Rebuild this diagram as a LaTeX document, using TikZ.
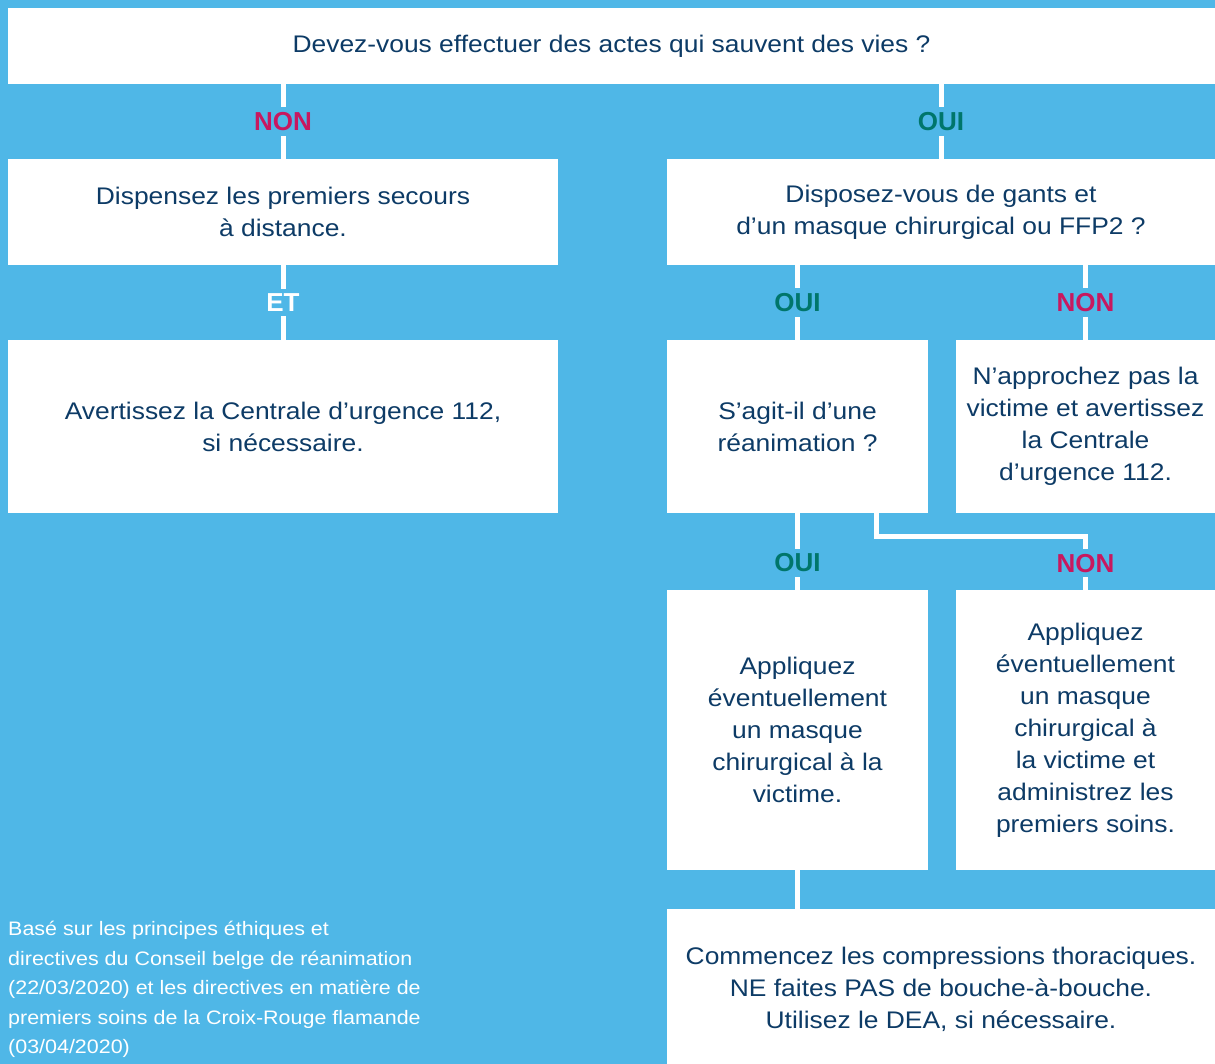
\documentclass[tikz,border=0pt]{standalone}
\usepackage{fontspec}
\setmainfont{Liberation Sans}
\newfontfamily\widefont[FakeStretch=1.1]{Liberation Sans}
\usetikzlibrary{calc, positioning}

\definecolor{sky}{HTML}{4FB7E7}
\definecolor{navy}{HTML}{0D3B66}
\definecolor{nonred}{HTML}{C8185F}
\definecolor{ouigreen}{HTML}{00766B}

\tikzset{
    panel/.style={fill=white, inner sep=0pt, align=center, text=navy,
                  font=\widefont\fontsize{24}{32}\selectfont},
    link/.style={white, line width=5pt},
    tag/.style={fill=sky, inner sep=5pt, font=\fontsize{26}{30}\selectfont\bfseries}
}

\begin{document}
\begin{tikzpicture}[x=1pt, y=-1pt]
    \useasboundingbox[fill=sky] (0,0) rectangle (1215,1064);

    % questions and answers
    \node[panel, minimum width=1207, minimum height=76] (top) at (611.5,46)
        {Devez-vous effectuer des actes qui sauvent des vies~?};
    \node[panel, minimum width=550, minimum height=106] (dispense) at (283,212)
        {Dispensez les premiers secours\\à distance.};
    \node[panel, minimum width=550, minimum height=173] (alerte) at (283,426.5)
        {Avertissez la Centrale d’urgence 112,\\si nécessaire.};
    \node[panel, minimum width=548, minimum height=106] (gants) at (941,212)
        {Disposez-vous de gants et\\d’un masque chirurgical ou FFP2~?};
    \node[panel, minimum width=261, minimum height=173] (reanim) at (797.5,426.5)
        {S’agit-il d’une\\réanimation~?};
    \node[panel, minimum width=259, minimum height=173] (recul) at (1085.5,426.5)
        {N’approchez pas la\\victime et avertissez\\la Centrale\\d’urgence 112.};
    \node[panel, minimum width=261, minimum height=280] (masque) at (797.5,730)
        {Appliquez\\éventuellement\\un masque\\chirurgical à la\\victime.};
    \node[panel, minimum width=259, minimum height=280] (soins) at (1085.5,730)
        {Appliquez\\éventuellement\\un masque\\chirurgical à\\la victime et\\administrez les\\premiers soins.};
    \node[panel, minimum width=548, minimum height=160] (compress) at (941,989)
        {Commencez les compressions thoraciques.\\NE faites PAS de bouche-à-bouche.\\Utilisez le DEA, si nécessaire.};

    % connectors
    \draw[link] (top.south -| dispense) -- node[tag, text=nonred] {NON} (dispense.north);
    \draw[link] (top.south -| gants) -- node[tag, text=ouigreen] {OUI} (gants.north);
    \draw[link] (dispense.south) -- node[tag, text=white] {ET} (alerte.north);
    \draw[link] (gants.south -| reanim) -- node[tag, text=ouigreen] {OUI} (reanim.north);
    \draw[link] (gants.south -| recul) -- node[tag, text=nonred] {NON} (recul.north);
    \draw[link] (reanim.south) -- node[pos=0.65, tag, text=ouigreen] {OUI} (masque.north);
    \coordinate (bend) at (876.5,536.5);
    \draw[link] (reanim.south -| bend) -- (bend) -| node[pos=0.75, tag, text=nonred] {NON} (soins.north);
    \draw[link] (masque.south) -- (masque.south |- compress.north);

    % source
    \node[anchor=north west, inner sep=0pt, align=left, text=white,
          font=\widefont\fontsize{19.5}{29.5}\selectfont] (source) at (8,921)
        {Basé sur les principes éthiques et\\directives du Conseil belge de réanimation\\(22/03/2020) et les directives en matière de\\premiers soins de la Croix-Rouge flamande\\(03/04/2020)};
\end{tikzpicture}
\end{document}
